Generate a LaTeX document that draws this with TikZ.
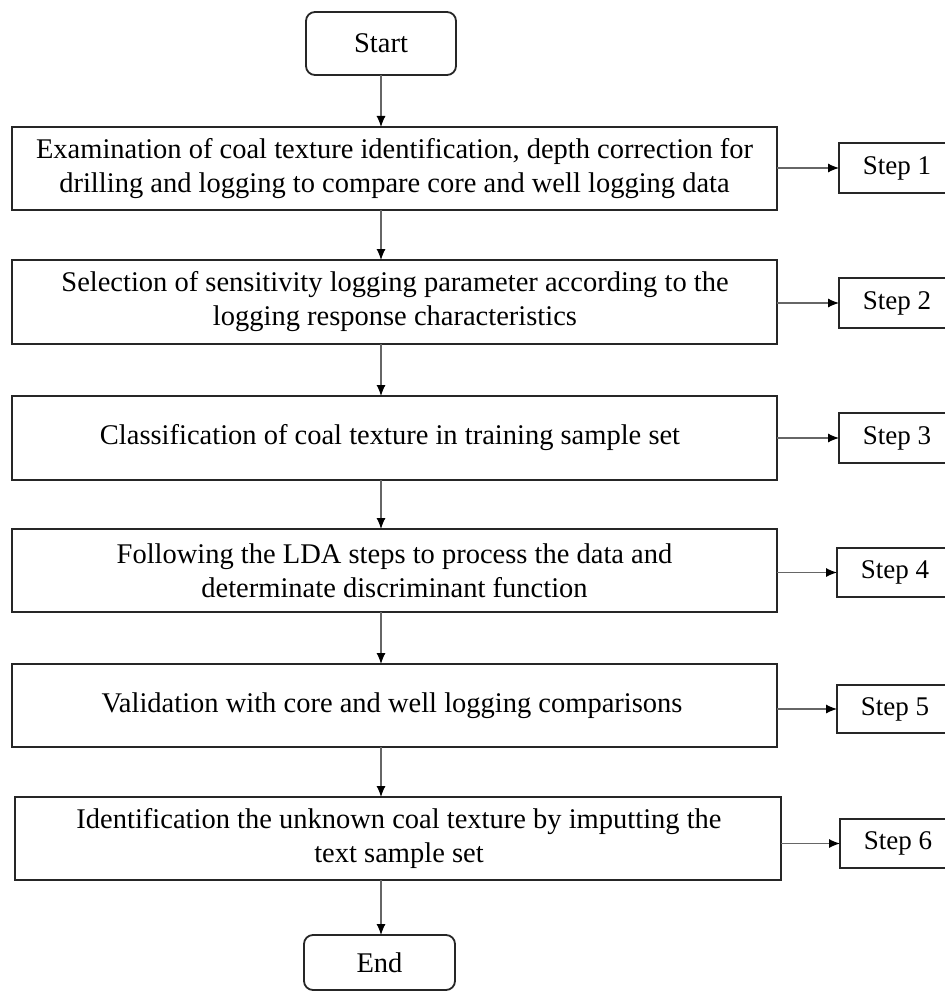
\documentclass[tikz,border=0pt]{standalone}
\usepackage{fontspec}
\setmainfont{Liberation Serif}
\usetikzlibrary{arrows.meta}
\begin{document}
\begin{tikzpicture}[x=1pt,y=-1pt,
  box/.style={draw=black!85,line width=1.8pt,fill=white},
  term/.style={box,rounded corners=9pt},
  txt/.style={align=center,font=\fontsize{28.5}{34}\selectfont,inner sep=0pt},
  steptxt/.style={font=\fontsize{27}{32}\selectfont,inner sep=0pt},
  arr/.style={draw=black!60,line width=1.1pt,-{Latex[length=11pt,width=9pt,black]}}
]
\useasboundingbox (0,0) rectangle (944,992);
% terminals
\draw[term] (306,12) rectangle (456,75);
\node[txt] (start) at (381,43.5) {Start};
\coordinate (startb) at (381,75);
% main boxes
\draw[box] (12,127) rectangle (777,210);
\node[txt] (b1) at (394.5,169) {Examination of coal texture identification, depth correction for\\drilling and logging to compare core and well logging data};
\draw[box] (12,260) rectangle (777,344);
\node[txt] (b2) at (395,302) {Selection of sensitivity logging parameter according to the\\logging response characteristics};
\draw[box] (12,396) rectangle (777,480);
\node[txt] (b3) at (390,438) {Classification of coal texture in training sample set};
\draw[box] (12,529) rectangle (777,612);
\node[txt] (b4) at (394.5,570.5) {Following the LDA steps to process the data and\\determinate discriminant function};
\draw[box] (12,664) rectangle (777,747);
\node[txt] (b5) at (392,705.5) {Validation with core and well logging comparisons};
\draw[box] (15,797) rectangle (781,880);
\node[txt] (b6) at (399,838.5) {Identification the unknown coal texture by imputting the\\text sample set};
\draw[term] (304,935) rectangle (455,990);
\node[txt] (end) at (379.5,962.5) {End};
% named anchors for connectors
\coordinate (t1) at (381,127); \coordinate (o1) at (381,210);
\coordinate (t2) at (381,260); \coordinate (o2) at (381,344);
\coordinate (t3) at (381,396); \coordinate (o3) at (381,480);
\coordinate (t4) at (381,529); \coordinate (o4) at (381,612);
\coordinate (t5) at (381,664); \coordinate (o5) at (381,747);
\coordinate (t6) at (381,797); \coordinate (o6) at (381,880);
\coordinate (tend) at (381,935);
% step boxes
\foreach \i/\ya/\yb/\xl/\xr in {1/143/193/839/777,2/278/328/839/777,3/413/463/839/777,4/548/597/837/777,5/685/733/837/777,6/819/868/840/781}{
  \draw[box] (\xl,\ya) rectangle (960,\yb);
  \node[steptxt] (s\i) at (\xl+58,{(\ya+\yb)/2}) {Step \i};
  \coordinate (sl\i) at (\xl,{(\ya+\yb)/2});
  \coordinate (r\i) at (\xr,{(\ya+\yb)/2});
}
% vertical connectors
\draw[arr] (startb) -- (t1);
\draw[arr] (o1) -- (t2);
\draw[arr] (o2) -- (t3);
\draw[arr] (o3) -- (t4);
\draw[arr] (o4) -- (t5);
\draw[arr] (o5) -- (t6);
\draw[arr] (o6) -- (tend);
% horizontal connectors
\draw[arr] (r1) -- (sl1);
\draw[arr] (r2) -- (sl2);
\draw[arr] (r3) -- (sl3);
\draw[arr] (r4) -- (sl4);
\draw[arr] (r5) -- (sl5);
\draw[arr] (r6) -- (sl6);
\end{tikzpicture}
\end{document}
